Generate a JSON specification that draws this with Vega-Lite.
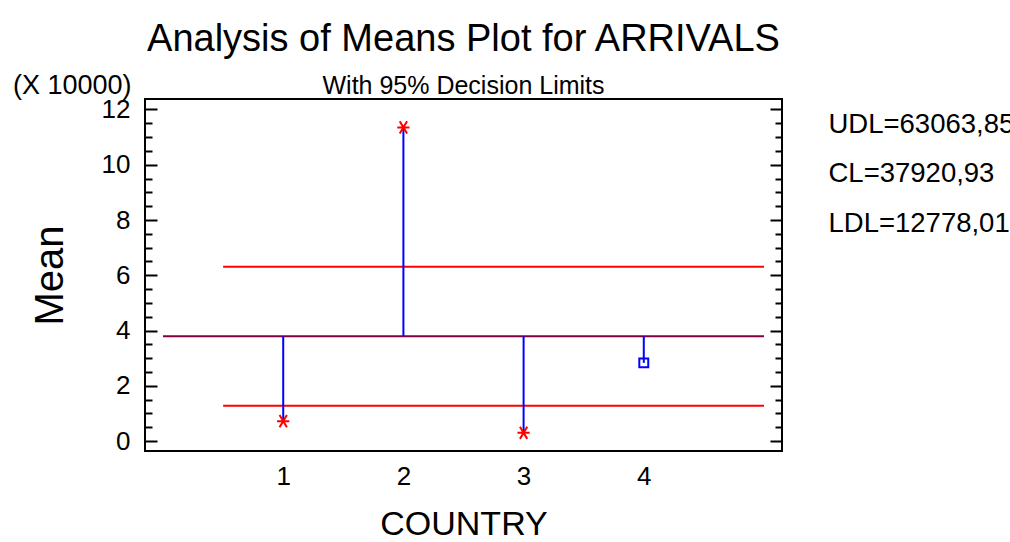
{
  "$schema": "https://vega.github.io/schema/vega-lite/v6.json",
  "width": 637,
  "height": 352,
  "autosize": {"type": "none"},
  "padding": {"left": 145, "top": 99, "right": 228, "bottom": 91},
  "background": "white",
  "title": {
    "text": "Analysis of Means Plot for ARRIVALS",
    "subtitle": "With 95% Decision Limits",
    "anchor": "middle",
    "frame": "group",
    "font": "Liberation Sans",
    "fontSize": 38,
    "fontWeight": "normal",
    "color": "black",
    "subtitleFont": "Liberation Sans",
    "subtitleFontSize": 25,
    "subtitleColor": "black",
    "subtitlePadding": 15,
    "offset": 6,
    "dy": 34
  },
  "config": {
    "view": {"stroke": "black", "strokeWidth": 2},
    "axis": {
      "labelFont": "Liberation Sans",
      "titleFont": "Liberation Sans",
      "labelFontSize": 26,
      "labelColor": "black",
      "titleColor": "black",
      "titleFontWeight": "normal",
      "tickColor": "black",
      "grid": false,
      "domain": false
    }
  },
  "datasets": {
    "means": [
      {"country": 1, "mean": 0.72, "center": 3.792093, "status": "out"},
      {"country": 2, "mean": 11.35, "center": 3.792093, "status": "out"},
      {"country": 3, "mean": 0.3, "center": 3.792093, "status": "out"},
      {"country": 4, "mean": 2.83, "center": 3.792093, "status": "in"}
    ],
    "limits": [
      {"label": "UDL=63063,85", "value": 6.306385, "start": 0.5, "end": 5},
      {"label": "CL=37920,93", "value": 3.792093, "start": 0, "end": 5},
      {"label": "LDL=12778,01", "value": 1.277801, "start": 0.5, "end": 5}
    ]
  },
  "resolve": {"axis": {"x": "independent", "y": "independent"}},
  "layer": [
    {
      "data": {"name": "limits"},
      "mark": {"type": "rule", "strokeWidth": 2},
      "encoding": {
        "x": {
          "field": "start", "type": "quantitative",
          "scale": {"domain": [-0.15, 5.15], "nice": false, "zero": false},
          "axis": {
            "orient": "bottom", "values": [1, 2, 3, 4], "ticks": false, "labelFontSize": 26,
            "labelPadding": 12, "title": "COUNTRY", "titleFontSize": 34,
            "titlePadding": 18
          }
        },
        "x2": {"field": "end"},
        "y": {
          "field": "value", "type": "quantitative",
          "scale": {"domain": [-0.36, 12.38], "nice": false, "zero": false},
          "axis": {
            "orient": "left", "values": [0, 2, 4, 6, 8, 10, 12],
            "tickSize": -12, "tickWidth": 2, "labelFontSize": 26, "labelPadding": 27,
            "title": "Mean", "titleFontSize": 40, "titlePadding": 31
          }
        },
        "color": {
          "field": "label", "type": "nominal",
          "scale": {
            "domain": ["UDL=63063,85", "CL=37920,93", "LDL=12778,01"],
            "range": ["#ff0000", "#800040", "#ff0000"]
          },
          "legend": {
            "orient": "none", "legendX": 656, "legendY": 12, "title": null,
            "symbolSize": 0, "symbolOpacity": 0, "symbolStrokeWidth": 0,
            "labelFont": "Liberation Sans", "labelFontSize": 27.5, "labelColor": "black",
            "labelOffset": 0, "rowPadding": 20.5, "labelLimit": 400
          }
        }
      }
    },
    {
      "data": {"name": "means"},
      "mark": {"type": "rule", "color": "#0000ff", "strokeWidth": 2},
      "encoding": {
        "x": {"field": "country", "type": "quantitative", "axis": null},
        "y": {
          "field": "center", "type": "quantitative",
          "axis": {
            "orient": "left", "values": [0.5, 1, 1.5, 2.5, 3, 3.5, 4.5, 5, 5.5, 6.5, 7, 7.5, 8.5, 9, 9.5, 10.5, 11, 11.5],
            "tickSize": -7, "tickWidth": 2, "labels": false, "title": null
          }
        },
        "y2": {"field": "mean"}
      }
    },
    {
      "data": {"name": "means"},
      "transform": [{"filter": "datum.status === 'out'"}],
      "mark": {
        "type": "point",
        "shape": "M-1,0H1M-0.6,-1L0.6,1M-0.6,1L0.6,-1",
        "size": 150, "filled": false, "color": "#ff0000", "strokeWidth": 2, "opacity": 1
      },
      "encoding": {
        "x": {"field": "country", "type": "quantitative", "axis": null},
        "y": {
          "field": "mean", "type": "quantitative",
          "axis": {
            "orient": "right", "values": [0, 2, 4, 6, 8, 10, 12],
            "tickSize": -12, "tickWidth": 2, "labels": false,
            "title": "(X 10000)", "titleFontSize": 27, "titleAngle": 0,
            "titleAlign": "right", "titleBaseline": "alphabetic",
            "titleX": -651, "titleY": -6
          }
        }
      }
    },
    {
      "data": {"name": "means"},
      "transform": [{"filter": "datum.status === 'in'"}],
      "mark": {
        "type": "point", "shape": "square", "size": 80, "filled": false,
        "color": "#0000ff", "strokeWidth": 2, "opacity": 1
      },
      "encoding": {
        "x": {"field": "country", "type": "quantitative", "axis": null},
        "y": {
          "field": "mean", "type": "quantitative",
          "axis": {
            "orient": "right", "values": [0.5, 1, 1.5, 2.5, 3, 3.5, 4.5, 5, 5.5, 6.5, 7, 7.5, 8.5, 9, 9.5, 10.5, 11, 11.5],
            "tickSize": -7, "tickWidth": 2, "labels": false, "title": null
          }
        }
      }
    }
  ]
}
